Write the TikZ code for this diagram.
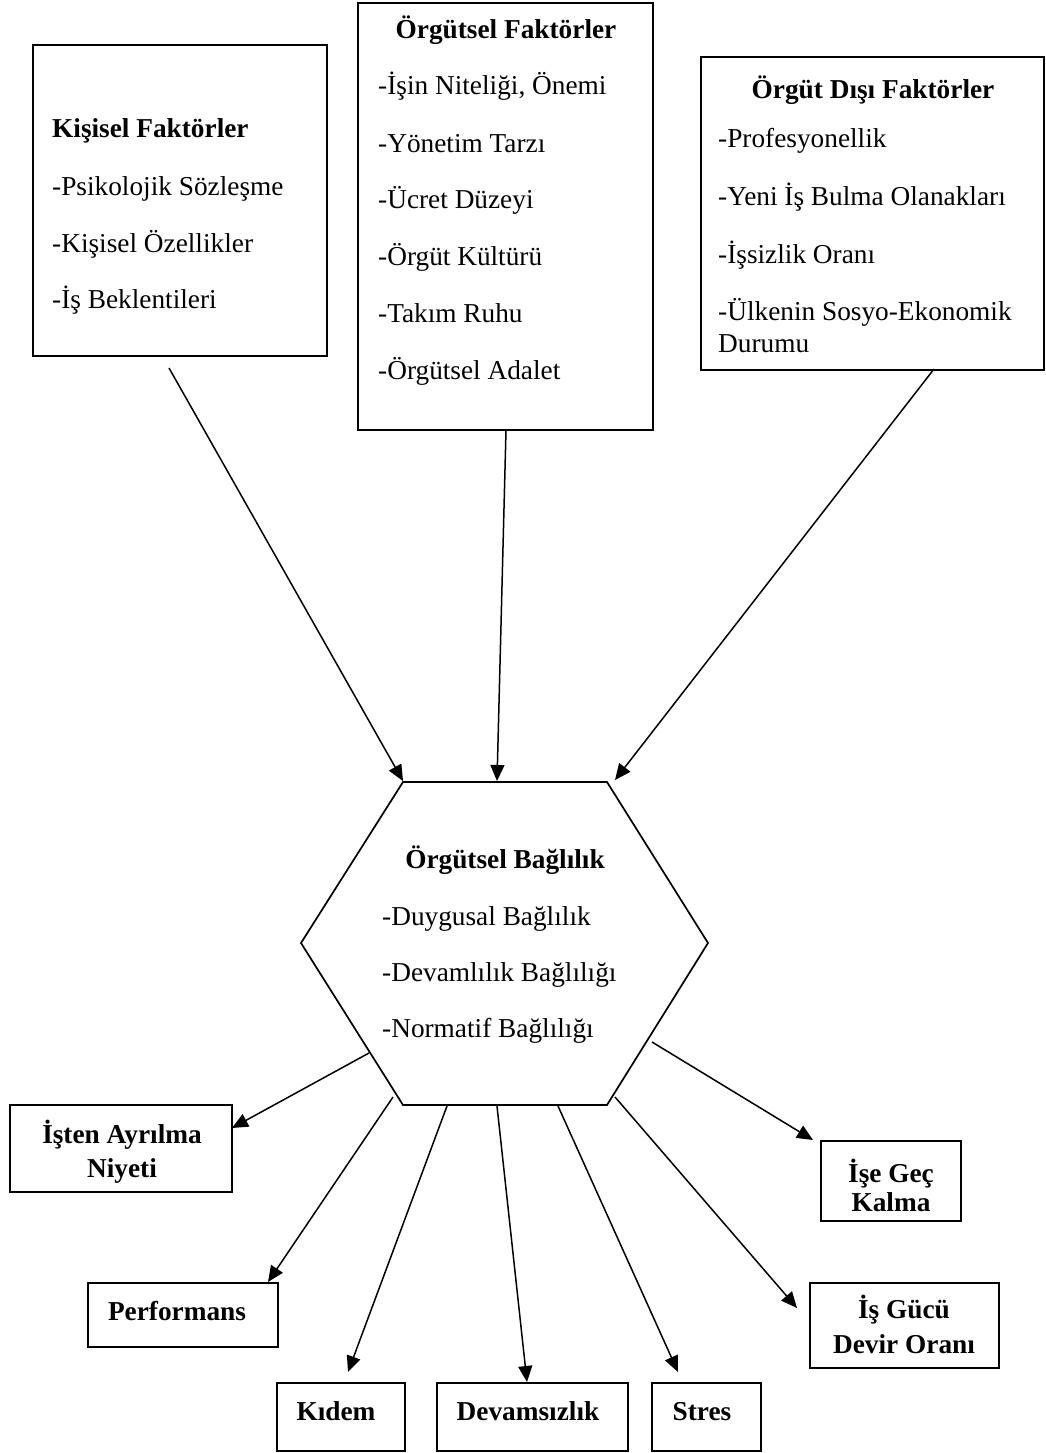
\documentclass[tikz,border=0pt]{standalone}
\usepackage{fontspec}
\setmainfont{Liberation Serif}
\usetikzlibrary{arrows.meta}
\tikzset{
  boxline/.style={draw=black, line width=1.7pt},
  framebox/.style={boxline, rectangle, inner sep=0pt},
  txt/.style={inner sep=0pt, font=\fontsize{27.3}{32}\selectfont},
  lefttxt/.style={txt, anchor=base west},
  headtxt/.style={txt, anchor=base, font=\fontsize{27.3}{32}\selectfont\bfseries},
  headleft/.style={txt, anchor=base west, font=\fontsize{27.3}{32}\selectfont\bfseries},
  arr/.style={draw=black, line width=1.5pt, -{Triangle[length=16pt,width=14pt]}}
}
\begin{document}
\begin{tikzpicture}[x=1pt,y=-1pt]
\useasboundingbox (0,0) rectangle (1046,1453);

% ---- factor boxes ----
\node[framebox, minimum width=294pt, minimum height=311pt] (kf) at (180,200.5) {};
\node[headleft] (kft) at (52,138) {Kişisel Faktörler};
\node[lefttxt] (kf1) at (52,195) {-Psikolojik Sözleşme};
\node[lefttxt] (kf2) at (52,252) {-Kişisel Özellikler};
\node[lefttxt] (kf3) at (52,308) {-İş Beklentileri};

\node[framebox, minimum width=295pt, minimum height=427pt] (of) at (505.5,216.5) {};
\node[headtxt] (oft) at (506,39) {Örgütsel Faktörler};
\node[lefttxt] (of1) at (378,95) {-İşin Niteliği, Önemi};
\node[lefttxt] (of2) at (378,152) {-Yönetim Tarzı};
\node[lefttxt] (of3) at (378,208) {-Ücret Düzeyi};
\node[lefttxt] (of4) at (378,265) {-Örgüt Kültürü};
\node[lefttxt] (of5) at (378,322) {-Takım Ruhu};
\node[lefttxt] (of6) at (378,379) {-Örgütsel Adalet};

\node[framebox, minimum width=343pt, minimum height=313pt] (od) at (872.5,213.5) {};
\node[headtxt] (odt) at (873,99) {Örgüt Dışı Faktörler};
\node[lefttxt] (od1) at (718,147) {-Profesyonellik};
\node[lefttxt] (od2) at (718,205) {-Yeni İş Bulma Olanakları};
\node[lefttxt] (od3) at (718,263) {-İşsizlik Oranı};
\node[lefttxt] (od4) at (718,320) {-Ülkenin Sosyo-Ekonomik};
\node[lefttxt] (od5) at (718,352) {Durumu};

% ---- central hexagon ----
\coordinate (h1) at (403,782);
\coordinate (h2) at (607,782);
\coordinate (h3) at (708,943);
\coordinate (h4) at (607,1105);
\coordinate (h5) at (403,1105);
\coordinate (h6) at (301,943);
\draw[boxline, line join=miter] (h1) -- (h2) -- (h3) -- (h4) -- (h5) -- (h6) -- cycle;
\node[inner sep=0pt] (hx) at (505,943) {};
\node[headtxt] (hxt) at (505,868) {Örgütsel Bağlılık};
\node[lefttxt] (hx1) at (382,925) {-Duygusal Bağlılık};
\node[lefttxt] (hx2) at (382,981) {-Devamlılık Bağlılığı};
\node[lefttxt] (hx3) at (382,1037) {-Normatif Bağlılığı};

% ---- outcome boxes ----
\node[framebox, minimum width=222pt, minimum height=87pt] (b1) at (121,1148.5) {};
\node[headtxt] (b1a) at (122,1143) {İşten Ayrılma};
\node[headtxt] (b1b) at (122,1177) {Niyeti};

\node[framebox, minimum width=190pt, minimum height=64pt] (b2) at (183,1315) {};
\node[headtxt] (b2a) at (177,1320) {Performans};

\node[framebox, minimum width=128pt, minimum height=68pt] (b3) at (341,1417) {};
\node[headtxt] (b3a) at (336,1420) {Kıdem};

\node[framebox, minimum width=191pt, minimum height=68pt] (b4) at (532.5,1417) {};
\node[headtxt] (b4a) at (528,1420) {Devamsızlık};

\node[framebox, minimum width=109pt, minimum height=68pt] (b5) at (706.5,1417) {};
\node[headtxt] (b5a) at (702,1420) {Stres};

\node[framebox, minimum width=189pt, minimum height=85pt] (b6) at (904.5,1325.5) {};
\node[headtxt] (b6a) at (904,1318) {İş Gücü};
\node[headtxt] (b6b) at (904,1353) {Devir Oranı};

\node[framebox, minimum width=140pt, minimum height=80pt] (b7) at (891,1181) {};
\node[headtxt] (b7a) at (891,1182) {İşe Geç};
\node[headtxt] (b7b) at (891,1211) {Kalma};

% ---- connector end points ----
\coordinate (kfo) at (169,368);
\coordinate (ofo) at (506,430);
\coordinate (odo) at (934,369);
\coordinate (hin1) at (403,781);
\coordinate (hin2) at (497,781);
\coordinate (hin3) at (615,780);

\coordinate (ho1) at (369,1053);
\coordinate (ho2) at (393,1097);
\coordinate (ho3) at (447,1106);
\coordinate (ho4) at (497,1106);
\coordinate (ho5) at (558,1106);
\coordinate (ho6) at (615,1097);
\coordinate (ho7) at (652,1042);

\coordinate (b1i) at (232,1128);
\coordinate (b2i) at (268,1282);
\coordinate (b3i) at (348,1372);
\coordinate (b4i) at (527,1382);
\coordinate (b5i) at (678,1372);
\coordinate (b6i) at (797,1308);
\coordinate (b7i) at (813,1140);

% ---- connectors ----
\draw[arr] (kfo) -- (hin1);
\draw[arr] (ofo) -- (hin2);
\draw[arr] (odo) -- (hin3);

\draw[arr] (ho1) -- (b1i);
\draw[arr] (ho2) -- (b2i);
\draw[arr] (ho3) -- (b3i);
\draw[arr] (ho4) -- (b4i);
\draw[arr] (ho5) -- (b5i);
\draw[arr] (ho6) -- (b6i);
\draw[arr] (ho7) -- (b7i);
\end{tikzpicture}
\end{document}
